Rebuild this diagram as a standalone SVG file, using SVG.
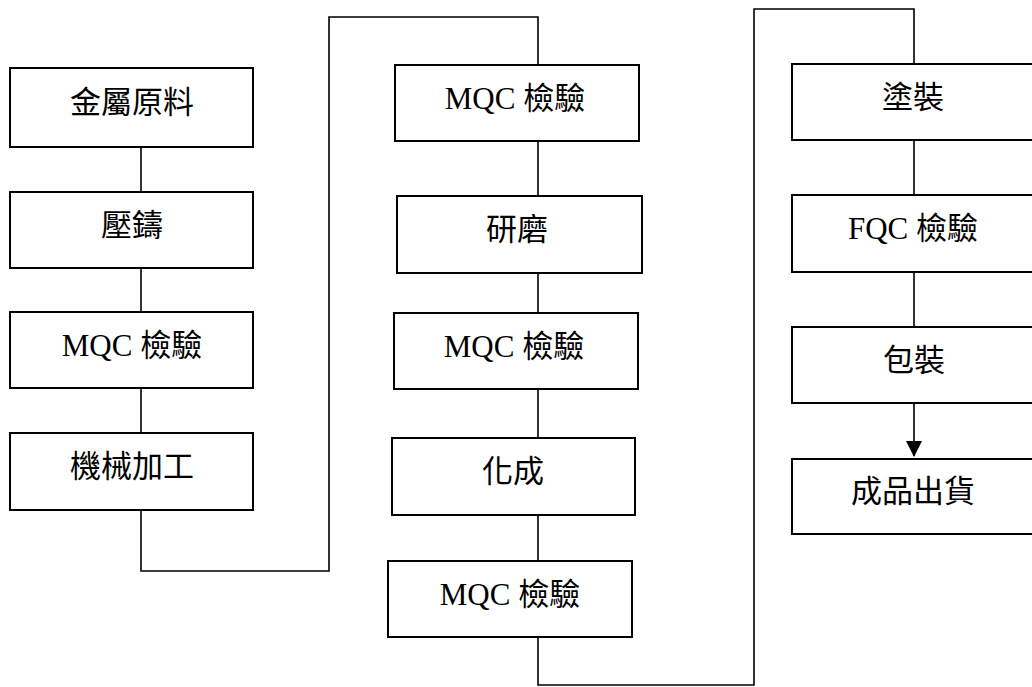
<svg xmlns="http://www.w3.org/2000/svg" width="1032" height="687" viewBox="0 0 1032 687">
<style>
.box{fill:#fff;stroke:#000;stroke-width:2}
.t{font-family:"Liberation Serif","Noto Sans CJK TC",serif;font-size:31px;text-anchor:middle;fill:#000}
.c{fill:none;stroke:#000;stroke-width:1.6}
</style>
<defs>
<marker id="arr" markerUnits="userSpaceOnUse" markerWidth="16" markerHeight="16" viewBox="0 0 16 16" refX="15" refY="8" orient="auto">
<path d="M0,0 L16,8 L0,16 Z" fill="#000"/>
</marker>
</defs>
<rect width="1032" height="687" fill="#fff"/>
<g id="connectors">
<path class="c" d="M141,147 V192 M141,268 V312 M141,388 V433"/>
<path class="c" d="M141,510 V571 H329 V17 H538 V65"/>
<path class="c" d="M538,141 V196 M538,273 V313 M538,389 V438 M538,515 V561"/>
<path class="c" d="M538,637 V685 H754 V9 H914 V64"/>
<path class="c" d="M914,140 V195 M914,272 V327"/>
<path class="c" d="M914,403 V456" marker-end="url(#arr)"/>
</g>
<g id="n1"><rect class="box" x="10" y="68" width="243" height="79"/><text class="t" x="132" y="113">金屬原料</text></g>
<g id="n2"><rect class="box" x="10" y="192" width="243" height="76"/><text class="t" x="132" y="236">壓鑄</text></g>
<g id="n3"><rect class="box" x="10" y="312" width="243" height="76"/><text class="t" x="132" y="356">MQC 檢驗</text></g>
<g id="n4"><rect class="box" x="10" y="433" width="243" height="77"/><text class="t" x="132" y="477">機械加工</text></g>
<g id="n5"><rect class="box" x="395" y="65" width="244" height="76"/><text class="t" x="515" y="109">MQC 檢驗</text></g>
<g id="n6"><rect class="box" x="397" y="196" width="245" height="77"/><text class="t" x="517" y="240">研磨</text></g>
<g id="n7"><rect class="box" x="394" y="313" width="244" height="76"/><text class="t" x="514" y="357">MQC 檢驗</text></g>
<g id="n8"><rect class="box" x="392" y="438" width="243" height="77"/><text class="t" x="513" y="482">化成</text></g>
<g id="n9"><rect class="box" x="388" y="561" width="244" height="76"/><text class="t" x="510" y="605">MQC 檢驗</text></g>
<g id="n10"><rect class="box" x="792" y="64" width="244" height="76"/><text class="t" x="913" y="108">塗裝</text></g>
<g id="n11"><rect class="box" x="792" y="195" width="244" height="77"/><text class="t" x="913" y="239">FQC 檢驗</text></g>
<g id="n12"><rect class="box" x="792" y="327" width="244" height="76"/><text class="t" x="914" y="371">包裝</text></g>
<g id="n13"><rect class="box" x="792" y="459" width="244" height="75"/><text class="t" x="913" y="502">成品出貨</text></g>
</svg>
